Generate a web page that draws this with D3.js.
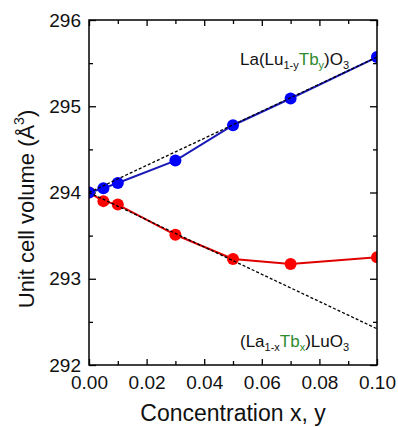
<!DOCTYPE html>
<html lang="en">
<head>
    <meta charset="UTF-8">
    <title>Unit cell volume vs concentration</title>
    <script src="https://d3js.org/d3.v7.min.js"></script>
    <style>
        body {
            margin: 0;
            padding: 0;
            background-color: white;
            font-family: 'Liberation Sans', Arial, sans-serif;
        }
        svg text { font-family: 'Liberation Sans', Arial, sans-serif; }
    </style>
</head>
<body>
    <div id="chart"></div>

    <script>
        // concentration x (or y)
        const conc = [0, 0.005, 0.01, 0.03, 0.05, 0.07, 0.10];
        // La(Lu1-yTby)O3 - blue
        const luSite = [294.0, 294.05, 294.11, 294.37, 294.78, 295.09, 295.57];
        // (La1-xTbx)LuO3 - red
        const laSite = [294.0, 293.9, 293.86, 293.51, 293.23, 293.17, 293.25];
        // Vegard's law lines (dashed), end points
        const vegardLu = [[0, 294.0], [0.10, 295.57]];
        const vegardLa = [[0, 294.0], [0.10, 292.42]];

        const xTicks = [0, 0.02, 0.04, 0.06, 0.08, 0.10];
        const xMinor = [0.01, 0.03, 0.05, 0.07, 0.09];
        const yTicks = [292, 293, 294, 295, 296];
        const yMinor = [292.5, 293.5, 294.5, 295.5];

        const width = 398, height = 427;
        const margin = {top: 20, right: 21, bottom: 62, left: 89};
        const innerW = width - margin.left - margin.right;
        const innerH = height - margin.top - margin.bottom;

        const svg = d3.select("#chart").append("svg")
            .attr("width", width)
            .attr("height", height);

        const g = svg.append("g")
            .attr("transform", `translate(${margin.left},${margin.top})`);

        const x = d3.scaleLinear().domain([0, 0.10]).range([0, innerW]);
        const y = d3.scaleLinear().domain([292, 296]).range([innerH, 0]);

        g.append("clipPath").attr("id", "plotClip")
            .append("rect").attr("width", innerW).attr("height", innerH);

        // axes with inward ticks on all four sides
        const fmtX = d3.format(".2f");
        function addAxis(axis, transform, showLabels) {
            const a = g.append("g").attr("transform", transform).call(axis);
            a.select(".domain").remove();
            a.selectAll("line").attr("stroke", "#000").attr("stroke-width", 1.3);
            a.selectAll("text")
                .style("font-size", "19px")
                .attr("fill", "#111")
                .style("display", showLabels ? null : "none");
            return a;
        }

        const bottom = addAxis(d3.axisBottom(x).tickValues(xTicks).tickSize(-6).tickFormat(fmtX), `translate(0,${innerH})`, true);
        bottom.selectAll("text").attr("dy", "0.71em").attr("y", 11);
        addAxis(d3.axisBottom(x).tickValues(xMinor).tickSize(-4).tickFormat(""), `translate(0,${innerH})`, false);
        addAxis(d3.axisTop(x).tickValues(xTicks).tickSize(-6).tickFormat(""), "translate(0,0)", false);
        addAxis(d3.axisTop(x).tickValues(xMinor).tickSize(-4).tickFormat(""), "translate(0,0)", false);

        const left = addAxis(d3.axisLeft(y).tickValues(yTicks).tickSize(-7).tickFormat(d3.format("d")), "translate(0,0)", true);
        left.selectAll("text").attr("x", -8);
        addAxis(d3.axisLeft(y).tickValues(yMinor).tickSize(-4).tickFormat(""), "translate(0,0)", false);
        addAxis(d3.axisRight(y).tickValues(yTicks).tickSize(-7).tickFormat(""), `translate(${innerW},0)`, false);
        addAxis(d3.axisRight(y).tickValues(yMinor).tickSize(-4).tickFormat(""), `translate(${innerW},0)`, false);

        // data
        const plot = g.append("g").attr("clip-path", "url(#plotClip)");
        const line = d3.line().x(d => x(d[0])).y(d => y(d[1]));

        const series = [
            {vals: laSite, line: "#e00000", dot: "#ff0000"},
            {vals: luSite, line: "#1a1ab8", dot: "#0000ff"}
        ];

        series.forEach(s => {
            const pts = conc.map((c, i) => [c, s.vals[i]]);
            plot.append("path")
                .datum(pts)
                .attr("fill", "none")
                .attr("stroke", s.line)
                .attr("stroke-width", 2)
                .attr("d", line);
            plot.selectAll(null)
                .data(pts)
                .join("circle")
                .attr("cx", d => x(d[0]))
                .attr("cy", d => y(d[1]))
                .attr("r", 6)
                .attr("fill", s.dot);
        });

        [vegardLu, vegardLa].forEach(v => {
            plot.append("path")
                .datum(v)
                .attr("fill", "none")
                .attr("stroke", "#000")
                .attr("stroke-width", 1.3)
                .attr("stroke-dasharray", "3,2")
                .attr("d", line);
        });

        // frame
        g.append("rect")
            .attr("width", innerW).attr("height", innerH)
            .attr("fill", "none").attr("stroke", "#000").attr("stroke-width", 1.5);

        // annotations
        const green = "#2e8b2e";
        function label(xPos, yPos, parts) {
            const t = g.append("text")
                .attr("x", xPos).attr("y", yPos)
                .style("font-size", "17px").attr("fill", "#111");
            parts.forEach(p => {
                const ts = t.append("tspan").text(p.t);
                if (p.c) ts.attr("fill", p.c);
                if (p.sub) ts.style("font-size", "11px").attr("dy", 4);
                if (p.up) ts.attr("dy", -4);
            });
        }
        label(151, 45, [
            {t: "La(Lu"}, {t: "1-y", sub: true}, {t: "Tb", c: green, up: true},
            {t: "y", c: green, sub: true}, {t: ")O", up: true}, {t: "3", sub: true}
        ]);
        label(151, 327, [
            {t: "(La"}, {t: "1-x", sub: true}, {t: "Tb", c: green, up: true},
            {t: "x", c: green, sub: true}, {t: ")LuO", up: true}, {t: "3", sub: true}
        ]);

        // axis titles
        svg.append("text")
            .attr("x", 233).attr("y", 421)
            .attr("text-anchor", "middle")
            .style("font-size", "23px").attr("fill", "#111")
            .text("Concentration x, y");

        const yt = svg.append("text")
            .attr("transform", "translate(34,209) rotate(-90)")
            .attr("text-anchor", "middle")
            .style("font-size", "22px").attr("fill", "#111");
        yt.append("tspan").text("Unit cell volume (Å");
        yt.append("tspan").text("3").style("font-size", "14px").attr("dy", -10);
        yt.append("tspan").text(")").attr("dy", 10);
    </script>
</body>
</html>
